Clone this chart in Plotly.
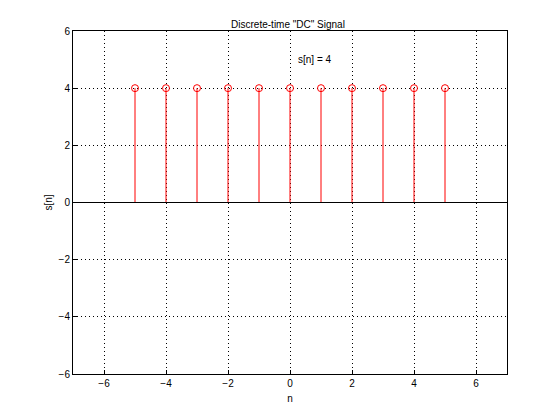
import plotly.graph_objects as go

n = [-5, -4, -3, -2, -1, 0, 1, 2, 3, 4, 5]
s = [4, 4, 4, 4, 4, 4, 4, 4, 4, 4, 4]
ticks = [-6, -4, -2, 0, 2, 4, 6]

fig = go.Figure()
# stems
sx, sy = [], []
for xi, yi in zip(n, s):
    sx += [xi, xi, None]
    sy += [0, yi, None]
fig.add_trace(go.Scatter(x=sx, y=sy, mode="lines", line=dict(color="red", width=1),
                         hoverinfo="skip", showlegend=False))
fig.add_trace(go.Scatter(x=n, y=s, mode="markers", showlegend=False,
                         marker=dict(symbol="circle-open", color="red", size=7, line=dict(width=1))))
# baseline
fig.add_trace(go.Scatter(x=[-7, 7], y=[0, 0], mode="lines", line=dict(color="black", width=1),
                         hoverinfo="skip", showlegend=False))

fig.add_annotation(x=0.8, y=5.0, text="s[n] = 4", showarrow=False,
                   font=dict(size=10, color="black"))

axis = dict(showline=True, mirror=True, linecolor="black", linewidth=1,
            ticks="inside", ticklen=4, tickcolor="black",
            showgrid=True, gridcolor="black", griddash="1px,3px", gridwidth=0.7,
            zeroline=False, tickfont=dict(size=10, color="black"))

fig.update_layout(
    width=560, height=420,
    margin=dict(l=65, r=61, t=23, b=54),
    paper_bgcolor="white", plot_bgcolor="white",
    font=dict(family="Liberation Sans, Arial, sans-serif", size=10, color="black"),
    title=dict(text='Discrete-time "DC" Signal', x=0.5, xanchor="center", y=0.97,
               font=dict(size=10)),
    xaxis=dict(range=[-7, 7], tickvals=ticks,
               title=dict(text="n", standoff=6, font=dict(size=10, color="black")), **axis),
    yaxis=dict(range=[-6, 6], tickvals=ticks,
               title=dict(text="s[n]", standoff=4, font=dict(size=10, color="black")), **axis),
)

fig.write_html("out.html")
